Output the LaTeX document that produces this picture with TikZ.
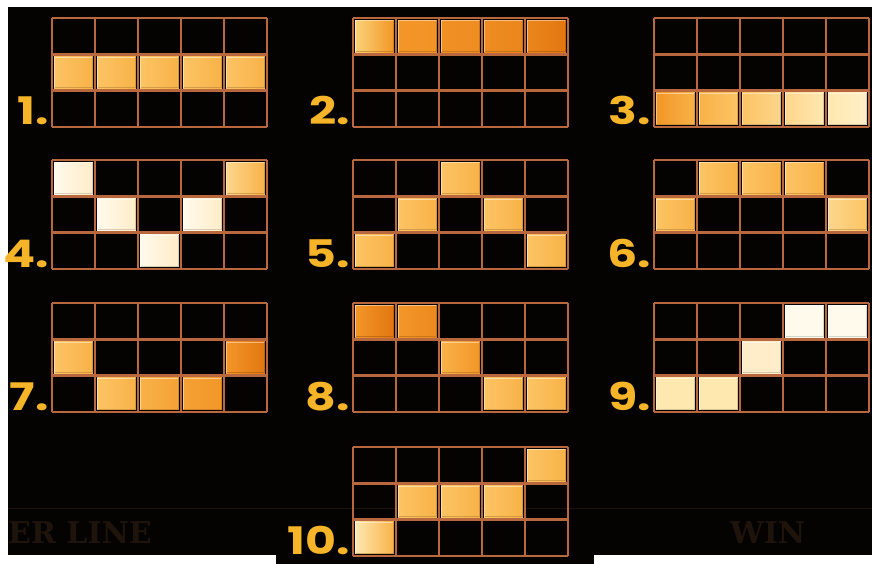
\documentclass[tikz,border=0pt]{standalone}
\usepackage{fontspec}
\newfontfamily\labfont{Poppins}
\newfontfamily\bgfont{DejaVu Serif}
\definecolor{bg}{RGB}{5,3,2}
\definecolor{gridc}{RGB}{184,104,60}
\definecolor{labc}{RGB}{246,180,40}
\definecolor{faint}{RGB}{30,20,11}
% cell colours
\definecolor{lo}{RGB}{252,196,100}
\definecolor{loB}{RGB}{248,178,72}
\definecolor{dkA}{RGB}{243,150,40}
\definecolor{dkB}{RGB}{226,118,16}
\definecolor{crA}{RGB}{255,250,236}
\definecolor{crB}{RGB}{255,236,200}
\definecolor{pA}{RGB}{255,232,176}
\definecolor{pB}{RGB}{252,214,140}
\tikzset{
  gridline/.style={draw=gridc, line width=2.6pt},
  lbl/.style={font=\labfont\bfseries\fontsize{38}{38}\selectfont, text=labc, anchor=base east, inner sep=0pt, xscale=1.25},
  bgtext/.style={font=\bgfont\bfseries\fontsize{30}{30}\selectfont, text=faint, anchor=base west, inner sep=0pt},
}
% grid: x, y, label
\newcommand\paygrid[3]{%
  \foreach \i in {0,...,5}{\draw[gridline] ({#1+\i*43},#2) -- ({#1+\i*43},{#2+109});}
  \foreach \j in {0,...,3}{\draw[gridline] (#1,{#2+\j*36.33}) -- ({#1+215},{#2+\j*36.33});}
  \node[lbl] (L#3) at ({#1-3},{#2+107}) {#3.};
}
% cell: gx, gy, col, row, left colour, right colour
\newcommand\pcell[6]{%
  \fill[left color=#5, right color=#6]
    ({#1+(#3-1)*43+2.2},{#2+(#4-1)*36.33+2.2}) rectangle ({#1+#3*43-2.2},{#2+#4*36.33-2.2});
  \draw[white, opacity=0.45, line width=0.8pt]
    ({#1+(#3-1)*43+2.8},{#2+#4*36.33-2.8}) -- ({#1+(#3-1)*43+2.8},{#2+(#4-1)*36.33+2.8}) -- ({#1+#3*43-2.8},{#2+(#4-1)*36.33+2.8});
  \draw[#6!70!black, opacity=0.5, line width=0.8pt]
    ({#1+(#3-1)*43+2.8},{#2+#4*36.33-2.8}) -- ({#1+#3*43-2.8},{#2+#4*36.33-2.8}) -- ({#1+#3*43-2.8},{#2+(#4-1)*36.33+2.8});
}
\begin{document}
\begin{tikzpicture}[x=1pt,y=-1pt]
\useasboundingbox (0,0) rectangle (872,564);
\fill[white] (0,0) rectangle (872,564);
\fill[bg] (8,7) rectangle (872,555);
\fill[bg] (276,555) rectangle (594,564);
% faint background artwork
\draw[faint, line width=1pt] (8,508) -- (872,508);
\node[bgtext] (bgA) at (8,543) {ER LINE};
\node[bgtext] (bgB) at (730,543) {WIN};

% 1
\paygrid{52}{18}{1}
\foreach \c in {1,...,5}{\pcell{52}{18}{\c}{2}{lo}{loB}}
% 2
\paygrid{353}{18}{2}
\pcell{353}{18}{1}{1}{dkA!70!yellow!60!white}{dkA}
\pcell{353}{18}{2}{1}{dkA}{dkA!90!dkB}
\pcell{353}{18}{3}{1}{dkA!85!dkB}{dkA!70!dkB}
\pcell{353}{18}{4}{1}{dkA!70!dkB}{dkA!50!dkB}
\pcell{353}{18}{5}{1}{dkA!50!dkB}{dkB}
% 3
\paygrid{654}{18}{3}
\pcell{654}{18}{1}{3}{dkA}{loB}
\pcell{654}{18}{2}{3}{loB}{lo}
\pcell{654}{18}{3}{3}{lo}{pB}
\pcell{654}{18}{4}{3}{pB}{pA}
\pcell{654}{18}{5}{3}{pA}{pA!70!white}
% 4
\paygrid{52}{160}{4}
\pcell{52}{160}{1}{1}{crA}{crB}
\pcell{52}{160}{2}{2}{crA}{crB}
\pcell{52}{160}{3}{3}{crA}{crB}
\pcell{52}{160}{4}{2}{crA}{crB}
\pcell{52}{160}{5}{1}{pB}{loB}
% 5
\paygrid{353}{160}{5}
\pcell{353}{160}{1}{3}{lo}{loB}
\pcell{353}{160}{2}{2}{lo}{loB}
\pcell{353}{160}{3}{1}{lo}{loB}
\pcell{353}{160}{4}{2}{lo}{loB}
\pcell{353}{160}{5}{3}{lo}{loB}
% 6
\paygrid{654}{160}{6}
\pcell{654}{160}{1}{2}{lo}{loB}
\pcell{654}{160}{2}{1}{lo}{loB}
\pcell{654}{160}{3}{1}{lo}{loB}
\pcell{654}{160}{4}{1}{lo}{loB}
\pcell{654}{160}{5}{2}{pB}{lo}
% 7
\paygrid{52}{303}{7}
\pcell{52}{303}{1}{2}{lo}{loB}
\pcell{52}{303}{2}{3}{lo}{loB}
\pcell{52}{303}{3}{3}{loB}{dkA!60!loB}
\pcell{52}{303}{4}{3}{dkA!60!loB}{dkA}
\pcell{52}{303}{5}{2}{dkA}{dkB}
% 8
\paygrid{353}{303}{8}
\pcell{353}{303}{1}{1}{dkA}{dkB}
\pcell{353}{303}{2}{1}{dkA}{dkA!60!dkB}
\pcell{353}{303}{3}{2}{loB}{dkA}
\pcell{353}{303}{4}{3}{lo}{loB}
\pcell{353}{303}{5}{3}{lo}{loB}
% 9
\paygrid{654}{303}{9}
\pcell{654}{303}{1}{3}{pA}{pA}
\pcell{654}{303}{2}{3}{pA}{pA}
\pcell{654}{303}{3}{2}{crB}{crB}
\pcell{654}{303}{4}{1}{crA}{crA}
\pcell{654}{303}{5}{1}{crA}{crA}
% 10
\paygrid{353}{447}{10}
\pcell{353}{447}{1}{3}{pA}{loB}
\pcell{353}{447}{2}{2}{lo}{loB}
\pcell{353}{447}{3}{2}{lo}{loB}
\pcell{353}{447}{4}{2}{lo}{loB}
\pcell{353}{447}{5}{1}{lo}{loB}
\end{tikzpicture}
\end{document}
